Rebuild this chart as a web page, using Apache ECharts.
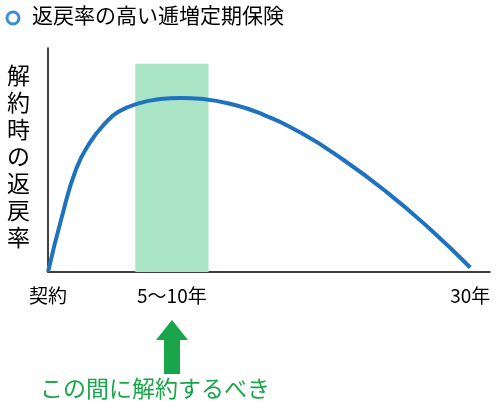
<!DOCTYPE html>
<html><head><meta charset="utf-8">
<script src="https://cdn.jsdelivr.net/npm/echarts@6/dist/echarts.min.js"></script>
<style>html,body{margin:0;padding:0;background:#fff}#main{width:500px;height:417px}</style>
</head><body><div id="main"></div>
<script>
var titleText = '返戻率の高い逓増定期保険';
var yLabel = '解約時の返戻率';
var noteText = 'この間に解約するべき';
// 経過年数と返戻率（概念図）
var years = [0, 1, 2, 3, 4, 5, 6.5, 8, 9.4, 11, 13, 15, 18, 21, 24, 27, 30];
var rates = [0, 25, 46, 58, 66, 71.5, 75.4, 77.2, 77.7, 77.2, 75, 71, 62, 50, 36, 20, 2];
var tickValues = [0, 8.8, 30];
var tickLabels = ['契約', '5～10年', '30年'];
var band = [6.2, 11.4];
var font = '"Noto Sans CJK JP", sans-serif';

var chart = echarts.init(document.getElementById('main'));
var lineData = years.map(function(x, i){ return [x, rates[i]]; });
chart.setOption({
  animation: false,
  grid: {left: 48, right: 10, top: 48, bottom: 145},
  xAxis: {
    type: 'value', min: 0, max: 31.4,
    axisLine: {lineStyle: {color: '#000', width: 1.5}},
    axisTick: {show: false}, splitLine: {show: false},
    axisLabel: {
      customValues: tickValues, margin: 14, fontSize: 19, color: '#000', fontFamily: font,
      formatter: function(v){ return tickLabels[tickValues.indexOf(v)]; }
    }
  },
  yAxis: {
    type: 'value', min: 0, max: 100,
    axisLine: {show: true, lineStyle: {color: '#000', width: 1.5}},
    axisTick: {show: false}, axisLabel: {show: false}, splitLine: {show: false}
  },
  series: [{
    type: 'line', data: lineData, smooth: true, symbol: 'none',
    lineStyle: {color: '#1f73be', width: 4},
    markArea: {silent: true, itemStyle: {color: '#a9e4c5'},
      data: [[{xAxis: band[0], yAxis: 93}, {xAxis: band[1], yAxis: 0}]]},
    z: 3
  }],
  graphic: [
    {type: 'circle', shape: {cx: 13, cy: 18, r: 6}, style: {fill: '#fff', stroke: '#3a8fd6', lineWidth: 3}},
    {type: 'text', left: 32, top: 5, style: {text: titleText, fontSize: 21, fill: '#000', fontFamily: font}},
    {type: 'text', left: 7, top: 62, style: {text: yLabel.split('').join('\n'), fontSize: 23, lineHeight: 27, fill: '#000', fontFamily: font}},
    {type: 'polygon', shape: {points: [[172, 320], [188, 340], [180, 340], [180, 374], [164, 374], [164, 340], [156, 340]]}, style: {fill: '#19a64a'}},
    {type: 'text', left: 40, top: 377, style: {text: noteText, fontSize: 23, fill: '#19a64a', fontFamily: font}}
  ]
});
</script></body></html>
